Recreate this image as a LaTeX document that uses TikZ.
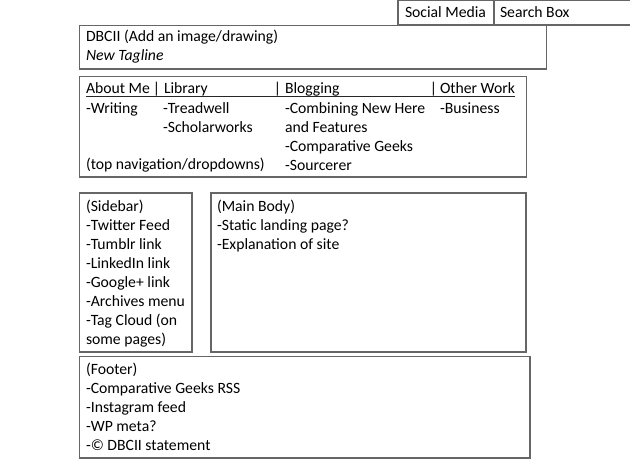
\documentclass[tikz,border=0pt]{standalone}
\usepackage{fontspec}
\setmainfont{Carlito}
\begin{document}
\begin{tikzpicture}[x=1pt,y=-1pt,
  box/.style={draw=black!60,line width=1.2pt},
  txt/.style={anchor=base west,inner sep=0pt,outer sep=0pt,text=black,font=\fontsize{15.7}{19}\selectfont},
  barc/.style={anchor=base,inner sep=0pt,text=black,font=\fontsize{15.7}{19}\selectfont}]
\useasboundingbox (0,0) rectangle (630,472);
\fill[white] (0,0) rectangle (630,472);
% boxes
\draw[box] (398,0.6) rectangle (632,25);
\draw[box] (494,0.6) -- (494,25);
\draw[box] (79.5,25.5) rectangle (546.5,69);
\draw[box] (79.5,76.5) rectangle (526.5,177);
\draw[box] (79.5,193) rectangle (192,352);
\draw[box] (211,193) rectangle (526,352);
\draw[box] (79.5,356.5) rectangle (530,458);
% top bar
\node[txt] (social) at (405,17) {Social Media};
\node[txt] (search) at (500,17) {Search Box};
% header
\node[txt] (title) at (86,41) {DBCII (Add an image/drawing)};
\node[txt] (tag) at (86,60) {\itshape New Tagline};
% navigation
\node[txt] (about) at (86,93) {About Me};
\node[barc] (bar1) at (156.5,93) {|};
\node[txt] (library) at (164,93) {Library};
\node[barc] (bar2) at (277.5,93) {|};
\node[txt] (blogging) at (285,93) {Blogging};
\node[barc] (bar3) at (433.5,93) {|};
\node[txt] (other) at (440,93) {Other Work};
\coordinate (ulA) at (86,96.5);
\coordinate (ulB) at (515,96.5);
\draw[line width=1.3pt,black!85] (ulA) -- (ulB);
\node[txt] (writing) at (86,113) {-Writing};
\node[txt] (tread) at (163,113) {-Treadwell};
\node[txt] (scholar) at (163,132) {-Scholarworks};
\node[txt] (topnav) at (86,169) {(top navigation/dropdowns)};
\node[txt] (comb) at (285,113) {-Combining New Here};
\node[txt] (feat) at (285,132) {and Features};
\node[txt] (compg) at (285,151) {-Comparative Geeks};
\node[txt] (sourc) at (285,170) {-Sourcerer};
\node[txt] (busi) at (440,113) {-Business};
% sidebar
\foreach \t [count=\i] in {(Sidebar),-Twitter Feed,-Tumblr link,-LinkedIn link,-Google+ link,-Archives menu,-Tag Cloud (on,some pages)}
  \node[txt] (side\i) at (86,{211+19*(\i-1)}) {\t};
% main body
\foreach \t [count=\i] in {(Main Body),-Static landing page?,-Explanation of site}
  \node[txt] (main\i) at (217,{211+19*(\i-1)}) {\t};
% footer
\foreach \t [count=\i] in {(Footer),-Comparative Geeks RSS,-Instagram feed,-WP meta?,-© DBCII statement}
  \node[txt] (foot\i) at (86,{374+19*(\i-1)}) {\t};
\end{tikzpicture}
\end{document}
